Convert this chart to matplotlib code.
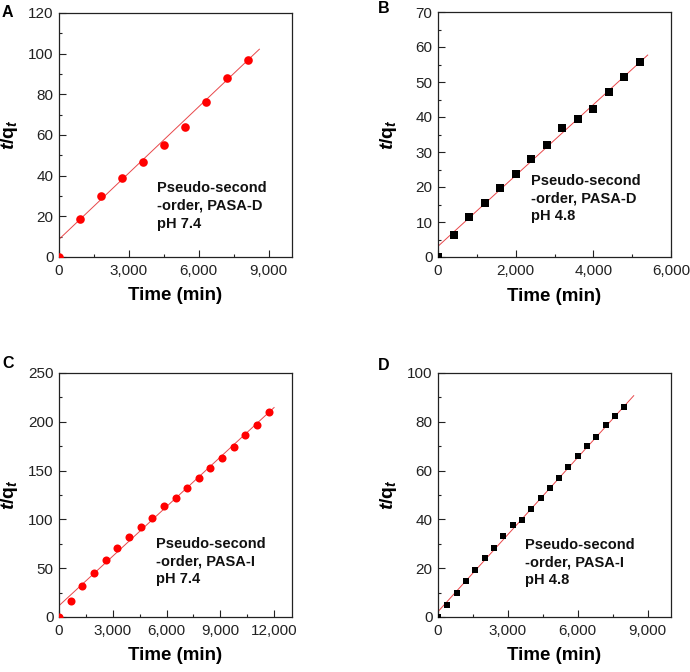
import matplotlib
matplotlib.use("Agg")
import matplotlib.pyplot as plt
from matplotlib.ticker import MultipleLocator, FuncFormatter
import numpy as np

plt.rcParams['font.family'] = ['Liberation Sans', 'DejaVu Sans']
plt.rcParams['mathtext.fontset'] = 'custom'
plt.rcParams['mathtext.rm'] = 'Liberation Sans:bold'
plt.rcParams['mathtext.it'] = 'Liberation Sans:bold:italic'
plt.rcParams['mathtext.bf'] = 'Liberation Sans:bold'

# ---- data ----
A_time = [0, 900, 1800, 2700, 3600, 4500, 5400, 6300, 7200, 8100]
A_tq = [0, 18.7, 30.2, 39.0, 46.6, 55.2, 63.9, 76.1, 88.0, 97.0]
A_fit = [0.010872, 8.7, 0, 8600]  # slope, intercept, x start, x end

B_time = [0, 400, 800, 1200, 1600, 2000, 2400, 2800, 3200, 3600, 4000, 4400, 4800, 5200]
B_tq = [0, 6.4, 11.3, 15.3, 19.6, 23.7, 28.0, 31.9, 37.0, 39.5, 42.2, 47.1, 51.5, 55.8]
B_fit = [0.010119, 3.06, 0, 5400]

C_time = [0, 650, 1300, 1950, 2600, 3250, 3900, 4550, 5200, 5850, 6500, 7150,
          7800, 8450, 9100, 9750, 10400, 11050, 11700]
C_tq = [0, 16.0, 31.3, 45.0, 58.6, 70.2, 81.7, 92.6, 101.2, 113.8, 121.9, 131.8,
        142.7, 152.2, 163.1, 174.4, 186.0, 196.9, 210.1]
C_fit = [0.016917, 11.6, 0, 12000]

D_time = [0, 400, 800, 1200, 1600, 2000, 2400, 2800, 3200, 3600, 4000, 4400, 4800,
          5200, 5600, 6000, 6400, 6800, 7200, 7600, 8000]
D_tq = [0, 4.9, 9.7, 14.6, 19.3, 24.0, 28.2, 33.0, 37.7, 39.9, 44.1, 48.9, 52.7,
        57.1, 61.4, 66.1, 70.0, 73.8, 78.6, 82.2, 86.2]
D_fit = [0.010536, 2.2, 0, 8400]

panel_letters = ['A', 'B', 'C', 'D']
notes = ['Pseudo-second\n-order, PASA-D\npH 7.4',
         'Pseudo-second\n-order, PASA-D\npH 4.8',
         'Pseudo-second\n-order, PASA-I\npH 7.4',
         'Pseudo-second\n-order, PASA-I\npH 4.8']
xlims = [10000, 6000, 13000, 10000]
ylims = [120, 70, 250, 100]
xmajor = [3000, 2000, 3000, 3000]
ymajor = [20, 10, 50, 20]

W, H = 690, 672
fig = plt.figure(figsize=(W / 100, H / 100), dpi=100)

# axes boxes in pixels: left, top, right, bottom
boxes = [(59, 13, 292, 257), (438, 12, 671, 257), (59, 373, 292, 617), (438, 373, 671, 617)]
note_pos = [(0.419, 0.310), (0.399, 0.338), (0.416, 0.327), (0.373, 0.323)]
letter_pos = [(2, 5), (378, 1), (2, 356), (378, 358)]

series = [(A_time, A_tq, A_fit, 'o', '#ff0000', 6.2),
          (B_time, B_tq, B_fit, 's', 'black', 5.4),
          (C_time, C_tq, C_fit, 'o', '#ff0000', 5.8),
          (D_time, D_tq, D_fit, 's', 'black', 4.7)]

fmt = FuncFormatter(lambda v, p: f"{int(round(v)):,}")

for i, (l, t, r, b) in enumerate(boxes):
    ax = fig.add_axes([l / W, (H - b) / H, (r - l) / W, (b - t) / H])
    x, y, fit, mk, col, ms = series[i]
    fx = np.array([fit[2], fit[3]])
    ax.plot(fx, fit[0] * fx + fit[1], color='#e8474a', lw=0.7, zorder=2)
    ax.plot(x, y, ls='none', marker=mk, color=col, markersize=ms,
            markeredgewidth=0, zorder=3)
    ax.set_xlim(0, xlims[i])
    ax.set_ylim(0, ylims[i])
    ax.xaxis.set_major_locator(MultipleLocator(xmajor[i]))
    ax.xaxis.set_minor_locator(MultipleLocator(xmajor[i] / 2))
    ax.yaxis.set_major_locator(MultipleLocator(ymajor[i]))
    ax.yaxis.set_minor_locator(MultipleLocator(ymajor[i] / 2))
    ax.xaxis.set_major_formatter(fmt)
    ax.tick_params(which='both', direction='in', top=False, right=False,
                   labelsize=11, colors='#222222', width=0.8)
    ax.tick_params(which='major', length=4.8)
    ax.tick_params(which='minor', length=2.4)
    ax.tick_params(axis='x', pad=5)
    ax.tick_params(axis='y', pad=4)
    for s in ax.spines.values():
        s.set_linewidth(0.9)
        s.set_color('#222222')
    ax.set_xlabel('Time (min)', fontsize=13.5, fontweight='bold', va='top')
    ax.xaxis.set_label_coords(0.5, -0.125)
    ax.set_ylabel(r'$t\mathrm{/q}_t$', fontsize=14)
    ax.yaxis.set_label_coords(-0.167, 0.5)
    ax.text(note_pos[i][0], note_pos[i][1], notes[i], transform=ax.transAxes,
            ha='left', va='top', fontsize=10.5, fontweight='bold', color='#111111',
            linespacing=1.33)
    fig.text(letter_pos[i][0] / W, 1 - letter_pos[i][1] / H, panel_letters[i],
             ha='left', va='top', fontsize=11.5, fontweight='bold')

fig.savefig('out.png', dpi=100)
